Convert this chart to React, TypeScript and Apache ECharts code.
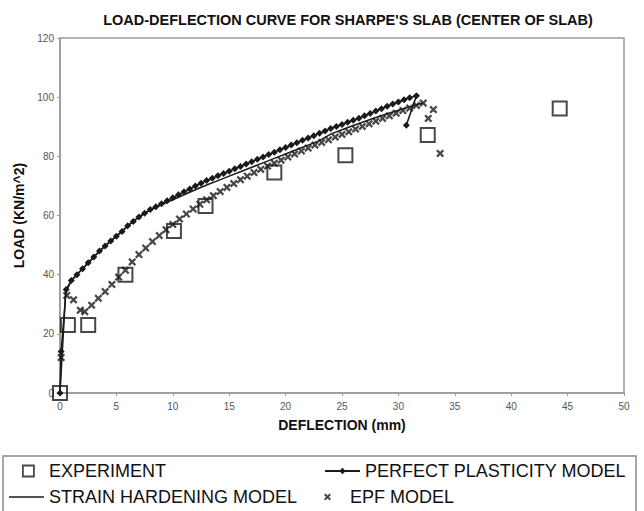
import React, { useEffect, useRef } from "react";
import * as echarts from "echarts";

const TITLE = "LOAD-DEFLECTION CURVE FOR SHARPE'S SLAB (CENTER OF SLAB)";
const X_NAME = "DEFLECTION (mm)";
const Y_NAME = "LOAD (KN/m^2)";

const experiment: [number, number][] = [
  [0, 0], [0.7, 23], [2.5, 23], [5.8, 40], [10.1, 54.8], [12.9, 63.2],
  [19.0, 74.5], [25.3, 80.4], [32.6, 87.2], [44.3, 96.2],
];

const perfectPlasticity: [number, number][] = [
  [0, 0], [0.1, 14], [0.55, 35], [1.0, 38], [1.5, 40], [2.0, 42], [2.5, 44],
  [3.0, 46], [3.5, 48], [4.0, 49.7], [4.5, 51.4], [5.0, 53], [5.5, 54.6],
  [6.0, 56.5], [6.5, 58], [7.0, 59.5], [7.5, 60.8], [8.0, 62], [8.5, 63],
  [9.0, 64], [9.5, 65], [10.0, 66], [10.5, 67], [11.0, 68], [11.5, 69],
  [12.0, 70], [12.5, 70.9], [13.0, 71.8], [13.5, 72.6], [14.0, 73.4],
  [14.5, 74.2], [15.0, 75], [15.5, 75.8], [16.0, 76.6], [16.5, 77.4],
  [17.0, 78.2], [17.5, 79], [18.0, 79.8], [18.5, 80.6], [19.0, 81.4],
  [19.5, 82.2], [20.0, 83], [20.5, 83.8], [21.0, 84.6], [21.5, 85.4],
  [22.0, 86.2], [22.5, 87], [23.0, 87.8], [23.5, 88.6], [24.0, 89.4],
  [24.5, 90.1], [25.0, 90.8], [25.5, 91.5], [26.0, 92.2], [26.5, 92.9],
  [27.0, 93.7], [27.5, 94.5], [28.0, 95.3], [28.5, 96.1], [29.0, 96.9],
  [29.5, 97.7], [30.0, 98.4], [30.5, 99.1], [31.0, 99.8], [31.6, 100.5],
  [30.7, 90.5],
];

const strainHardening: [number, number][] = [
  [0, 0], [0.5, 34], [1, 38], [2, 42], [3, 46], [4, 49.7], [5, 53], [6, 56.5],
  [7, 59.5], [8, 61.8], [9, 63.6], [10, 65.3], [11, 67], [12, 68.7],
  [13, 70.3], [14, 71.8], [15, 73.3], [16, 74.8], [17, 76.3], [18, 77.8],
  [19, 79.3], [20, 80.8], [21, 82.3], [22, 83.8], [23, 85.3], [24, 87.5],
  [25, 89], [26, 90.4], [27, 91.8], [28, 93.1], [29, 94.4], [30, 95.6],
  [31, 96.8], [32.2, 98],
];

const epf: [number, number][] = [
  [0.1, 12], [0.6, 33], [1.2, 31.5], [1.8, 28], [2.2, 27.5], [2.8, 29.7],
  [3.4, 32], [4.0, 34.3], [4.6, 36.7], [5.2, 39.2], [5.8, 41.5], [6.4, 44.3],
  [7.0, 46.8], [7.6, 49], [8.2, 51.2], [8.8, 53.2], [9.4, 55.2], [10.0, 57],
  [10.6, 58.8], [11.2, 60.5], [11.8, 62.2], [12.4, 63.8], [13.0, 65.3],
  [13.6, 66.7], [14.2, 68.1], [14.8, 69.5], [15.4, 70.8], [16.0, 72.1],
  [16.6, 73.3], [17.2, 74.5], [17.8, 75.6], [18.4, 76.7], [19.0, 77.7],
  [19.6, 78.7], [20.2, 79.8], [20.8, 80.8], [21.4, 81.8], [22.0, 82.8],
  [22.6, 83.8], [23.2, 84.7], [23.8, 85.6], [24.4, 86.5], [25.0, 87.4],
  [25.6, 88.3], [26.2, 89.2], [26.8, 90.1], [27.4, 91], [28.0, 91.9],
  [28.6, 92.8], [29.2, 93.7], [29.8, 94.6], [30.4, 95.5], [31.0, 96.3],
  [31.6, 97.2], [32.2, 98], [33.1, 95.8], [32.65, 92.8], [33.7, 81],
];

const X_MIN = 0, X_MAX = 50, X_STEP = 5;
const Y_MIN = 0, Y_MAX = 120, Y_STEP = 20;

const FONT = "'Liberation Sans', Arial, Helvetica, sans-serif";
const INK = "#1a1a1a";
const XMARK =
  "path://M0,2L2,0L5,3L8,0L10,2L7,5L10,8L8,10L5,7L2,10L0,8L3,5Z";
const LINE_ICON = "path://M0,0L35,0L35,1.5L0,1.5Z";

export default function App() {
  const ref = useRef<HTMLDivElement>(null);
  useEffect(() => {
    if (!ref.current) return;
    const chart = echarts.init(ref.current, undefined, { renderer: "svg" });
    const legendText = { fontSize: 18, color: "#111", fontFamily: FONT, lineHeight: 18 };
    chart.setOption({
      animation: false,
      backgroundColor: "#fff",
      title: {
        text: TITLE,
        left: 343,
        textAlign: "center",
        top: 7,
        textStyle: { fontSize: 14.5, fontWeight: "bold", color: "#111", fontFamily: FONT },
      },
      grid: {
        left: 60, top: 38, width: 564, height: 355,
        show: true, borderColor: "#9a9a9a", borderWidth: 1.5, backgroundColor: "transparent",
      },
      xAxis: {
        type: "value", min: X_MIN, max: X_MAX, interval: X_STEP,
        name: X_NAME, nameLocation: "middle", nameGap: 25,
        nameTextStyle: { fontSize: 14, fontWeight: "bold", color: "#111", fontFamily: FONT },
        axisLine: { show: true, lineStyle: { color: "#9a9a9a", width: 1.5 } },
        axisTick: { show: true, length: 3, lineStyle: { color: "#9a9a9a" } },
        axisLabel: { fontSize: 10, color: "#555", fontFamily: FONT, margin: 8 },
        splitLine: { show: false },
      },
      yAxis: {
        type: "value", min: Y_MIN, max: Y_MAX, interval: Y_STEP,
        name: Y_NAME, nameLocation: "middle", nameGap: 31, nameRotate: 90,
        nameTextStyle: { fontSize: 14, fontWeight: "bold", color: "#111", fontFamily: FONT },
        axisLine: { show: true, lineStyle: { color: "#9a9a9a", width: 1.5 } },
        axisTick: { show: true, length: 3, lineStyle: { color: "#9a9a9a" } },
        axisLabel: { fontSize: 10, color: "#555", fontFamily: FONT, margin: 6 },
        splitLine: { show: false },
      },
      legend: [
        {
          data: [{ name: "EXPERIMENT", icon: "rect" }],
          left: 22, top: 462, padding: 0, itemWidth: 11, itemHeight: 11,
          textStyle: { ...legendText, padding: [0, 0, 0, 10] },
          itemStyle: { color: "transparent", borderColor: INK, borderWidth: 1.8 },
        },
        {
          data: [{ name: "STRAIN HARDENING MODEL", icon: LINE_ICON }],
          left: 9, top: 488, padding: 0, itemWidth: 35, itemHeight: 1.5,
          textStyle: legendText,
        },
        {
          data: ["PERFECT PLASTICITY MODEL"], left: 324, top: 462, padding: 0,
          itemWidth: 35, itemHeight: 8,
          textStyle: legendText,
        },
        {
          data: ["EPF MODEL"], left: 324, top: 488, padding: 0, itemWidth: 35, itemHeight: 7,
          textStyle: legendText,
        },
      ],
      graphic: [
        {
          type: "rect",
          shape: { x: 3, y: 456, width: 633, height: 70 },
          style: { fill: "none", stroke: "#8a8a8a", lineWidth: 1.5 },
          silent: true,
        },
      ],
      series: [
        {
          name: "STRAIN HARDENING MODEL",
          type: "line",
          data: strainHardening,
          symbol: "none",
          lineStyle: { color: INK, width: 1.5 },
          itemStyle: { color: INK },
          z: 2,
        },
        {
          name: "PERFECT PLASTICITY MODEL",
          type: "line",
          data: perfectPlasticity,
          symbol: "diamond",
          symbolSize: 7,
          showAllSymbol: true,
          lineStyle: { color: INK, width: 1.6 },
          itemStyle: { color: INK },
          z: 3,
        },
        {
          name: "EPF MODEL",
          type: "scatter",
          data: epf,
          symbol: XMARK,
          symbolSize: 8,
          itemStyle: { color: INK },
          z: 4,
        },
        {
          name: "EXPERIMENT",
          type: "scatter",
          data: experiment,
          symbol: "rect",
          symbolSize: 14,
          itemStyle: { color: "transparent", borderColor: INK, borderWidth: 2 },
          z: 5,
        },
      ],
    });
    return () => chart.dispose();
  }, []);
  return (
    <div
      ref={ref}
      style={{ position: "fixed", left: 0, top: 0, width: 644, height: 511, background: "#fff" }}
    />
  );
}
